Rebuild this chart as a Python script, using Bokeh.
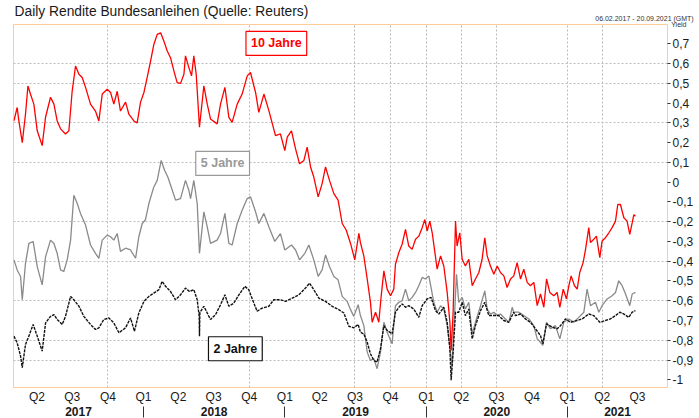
import pandas as pd
from bokeh.plotting import figure
from bokeh.models import FixedTicker, LinearAxis, Label, Range1d, CustomJSTickFormatter
from bokeh.embed import file_html
from bokeh.resources import INLINE

# ---- data (time as decimal year, yields in %) ----
t10 = [2017.083, 2017.106, 2017.118, 2017.142, 2017.165, 2017.182, 2017.200, 2017.224, 2017.248, 2017.283,
       2017.307, 2017.342, 2017.366, 2017.389, 2017.413, 2017.448, 2017.472, 2017.495, 2017.519, 2017.543,
       2017.566, 2017.590, 2017.625, 2017.660, 2017.684, 2017.708, 2017.743, 2017.767, 2017.790, 2017.814,
       2017.837, 2017.873, 2017.896, 2017.932, 2017.955, 2017.979, 2018.003, 2018.026, 2018.050, 2018.073,
       2018.097, 2018.121, 2018.144, 2018.168, 2018.191, 2018.215, 2018.238, 2018.262, 2018.286, 2018.297,
       2018.321, 2018.340, 2018.356, 2018.373, 2018.396, 2018.427, 2018.451, 2018.474, 2018.521, 2018.545,
       2018.576, 2018.604, 2018.627, 2018.663, 2018.698, 2018.734, 2018.757, 2018.793, 2018.816, 2018.852,
       2018.887, 2018.934, 2018.969, 2019.000, 2019.017, 2019.047, 2019.076, 2019.104, 2019.135, 2019.158,
       2019.182, 2019.205, 2019.236, 2019.264, 2019.288, 2019.316, 2019.347, 2019.377, 2019.406, 2019.434,
       2019.465, 2019.495, 2019.524, 2019.535, 2019.559, 2019.583, 2019.606, 2019.618, 2019.642, 2019.665,
       2019.682, 2019.701, 2019.724, 2019.748, 2019.771, 2019.783, 2019.807, 2019.830, 2019.854, 2019.877,
       2019.901, 2019.925, 2019.948, 2019.972, 2019.991, 2020.007, 2020.026, 2020.043, 2020.059, 2020.078,
       2020.102, 2020.125, 2020.149, 2020.168, 2020.177, 2020.191, 2020.208, 2020.219, 2020.238, 2020.255,
       2020.278, 2020.302, 2020.326, 2020.349, 2020.373, 2020.396, 2020.415, 2020.432, 2020.455, 2020.479,
       2020.503, 2020.526, 2020.550, 2020.573, 2020.597, 2020.620, 2020.644, 2020.668, 2020.691, 2020.715,
       2020.738, 2020.762, 2020.786, 2020.809, 2020.833, 2020.852, 2020.875, 2020.903, 2020.927, 2020.946,
       2020.970, 2020.993, 2021.010, 2021.026, 2021.050, 2021.069, 2021.087, 2021.111, 2021.128, 2021.151,
       2021.163, 2021.186, 2021.205, 2021.229, 2021.245, 2021.269, 2021.293, 2021.316, 2021.340, 2021.356,
       2021.375, 2021.399, 2021.422, 2021.441, 2021.458, 2021.470, 2021.481]
v10 = [0.311, 0.378, 0.31, 0.20, 0.345, 0.487, 0.446, 0.395, 0.26, 0.185,
       0.33, 0.43, 0.395, 0.31, 0.27, 0.244, 0.26, 0.46, 0.588, 0.546,
       0.53, 0.48, 0.395, 0.36, 0.31, 0.446, 0.47, 0.454, 0.395, 0.46,
       0.36, 0.405, 0.345, 0.31, 0.30, 0.405, 0.454, 0.53, 0.613, 0.697,
       0.748, 0.756, 0.714, 0.664, 0.63, 0.563, 0.504, 0.50, 0.546, 0.639,
       0.58, 0.538, 0.639, 0.546, 0.278, 0.488, 0.395, 0.32, 0.295, 0.395,
       0.48, 0.328, 0.303, 0.395, 0.446, 0.538, 0.555, 0.454, 0.353, 0.446,
       0.362, 0.236, 0.244, 0.16, 0.228, 0.26, 0.169, 0.093, 0.11, 0.177,
       0.077, 0.026, -0.074, -0.007, 0.077, 0.009, -0.058, -0.091, -0.209, -0.242,
       -0.31, -0.393, -0.259, -0.306, -0.373, -0.49, -0.608, -0.709, -0.658, -0.709,
       -0.575, -0.449, -0.541, -0.575, -0.541, -0.415, -0.356, -0.314, -0.239, -0.323,
       -0.34, -0.289, -0.273, -0.23, -0.189, -0.247, -0.197, -0.256, -0.34, -0.44,
       -0.373, -0.424, -0.558, -0.709, -0.851, -0.658, -0.197, -0.323, -0.256, -0.39,
       -0.424, -0.39, -0.524, -0.49, -0.457, -0.39, -0.281, -0.373, -0.424, -0.466,
       -0.424, -0.457, -0.474, -0.533, -0.49, -0.474, -0.407, -0.49, -0.44, -0.507,
       -0.524, -0.507, -0.625, -0.566, -0.633, -0.49, -0.558, -0.575, -0.558, -0.633,
       -0.541, -0.591, -0.524, -0.474, -0.524, -0.541, -0.457, -0.407, -0.34, -0.23,
       -0.306, -0.289, -0.273, -0.382, -0.298, -0.281, -0.256, -0.23, -0.197, -0.113,
       -0.113, -0.18, -0.197, -0.264, -0.206, -0.164, -0.172]

t5 = [2017.083, 2017.106, 2017.130, 2017.142, 2017.165, 2017.189, 2017.219, 2017.248, 2017.283, 2017.307,
      2017.342, 2017.366, 2017.389, 2017.413, 2017.436, 2017.460, 2017.484, 2017.507, 2017.531, 2017.554,
      2017.590, 2017.625, 2017.660, 2017.684, 2017.708, 2017.743, 2017.767, 2017.790, 2017.814, 2017.837,
      2017.873, 2017.908, 2017.944, 2017.967, 2017.991, 2018.014, 2018.038, 2018.073, 2018.097, 2018.125,
      2018.149, 2018.172, 2018.196, 2018.227, 2018.262, 2018.297, 2018.321, 2018.333, 2018.356, 2018.380,
      2018.396, 2018.427, 2018.451, 2018.474, 2018.521, 2018.545, 2018.576, 2018.604, 2018.627, 2018.663,
      2018.698, 2018.734, 2018.757, 2018.793, 2018.816, 2018.852, 2018.887, 2018.929, 2018.969, 2019.000,
      2019.047, 2019.076, 2019.104, 2019.142, 2019.170, 2019.205, 2019.236, 2019.264, 2019.288, 2019.316,
      2019.347, 2019.377, 2019.406, 2019.441, 2019.465, 2019.488, 2019.519, 2019.535, 2019.559, 2019.583,
      2019.606, 2019.630, 2019.653, 2019.677, 2019.701, 2019.724, 2019.759, 2019.783, 2019.807, 2019.830,
      2019.854, 2019.877, 2019.901, 2019.925, 2019.948, 2019.972, 2019.995, 2020.019, 2020.035, 2020.054,
      2020.078, 2020.102, 2020.125, 2020.149, 2020.172, 2020.184, 2020.196, 2020.215, 2020.231, 2020.255,
      2020.278, 2020.302, 2020.326, 2020.349, 2020.385, 2020.415, 2020.432, 2020.455, 2020.479, 2020.503,
      2020.526, 2020.561, 2020.585, 2020.609, 2020.620, 2020.656, 2020.691, 2020.727, 2020.762, 2020.786,
      2020.809, 2020.826, 2020.852, 2020.880, 2020.915, 2020.946, 2020.974, 2021.010, 2021.045, 2021.080,
      2021.116, 2021.139, 2021.163, 2021.198, 2021.222, 2021.245, 2021.281, 2021.316, 2021.340, 2021.363,
      2021.387, 2021.411, 2021.441, 2021.458, 2021.481]
v5 = [-0.393, -0.444, -0.477, -0.595, -0.41, -0.31, -0.30, -0.427, -0.52, -0.377,
      -0.293, -0.31, -0.36, -0.444, -0.452, -0.393, -0.293, -0.066, -0.108, -0.158,
      -0.217, -0.318, -0.36, -0.385, -0.293, -0.268, -0.276, -0.293, -0.26, -0.35,
      -0.334, -0.343, -0.385, -0.276, -0.209, -0.19, -0.108, -0.024, 0.009, 0.11,
      0.06, 0.026, -0.024, -0.091, -0.083, 0.009, -0.041, -0.083, 0.009, -0.108,
      -0.36, -0.15, -0.226, -0.31, -0.293, -0.26, -0.158, -0.31, -0.318, -0.209,
      -0.142, -0.083, -0.074, -0.15, -0.209, -0.158, -0.226, -0.30, -0.26, -0.343,
      -0.318, -0.343, -0.393, -0.36, -0.318, -0.393, -0.477, -0.444, -0.368, -0.427,
      -0.477, -0.494, -0.578, -0.603, -0.645, -0.679, -0.62, -0.675, -0.726, -0.86,
      -0.902, -0.893, -0.944, -0.86, -0.709, -0.759, -0.818, -0.625, -0.608, -0.60,
      -0.541, -0.60, -0.583, -0.558, -0.524, -0.482, -0.49, -0.474, -0.533, -0.608,
      -0.658, -0.625, -0.642, -0.726, -0.86, -0.927, -0.742, -0.466, -0.608, -0.583,
      -0.642, -0.608, -0.768, -0.709, -0.625, -0.55, -0.642, -0.667, -0.658, -0.675,
      -0.667, -0.692, -0.709, -0.633, -0.658, -0.658, -0.675, -0.692, -0.726, -0.793,
      -0.81, -0.826, -0.709, -0.742, -0.726, -0.793, -0.709, -0.692, -0.709, -0.684,
      -0.658, -0.541, -0.625, -0.608, -0.658, -0.625, -0.591, -0.575, -0.558, -0.499,
      -0.524, -0.566, -0.625, -0.566, -0.558]

t2 = [2017.083, 2017.106, 2017.130, 2017.142, 2017.165, 2017.189, 2017.219, 2017.248, 2017.283, 2017.307,
      2017.342, 2017.366, 2017.389, 2017.425, 2017.448, 2017.484, 2017.507, 2017.543, 2017.578, 2017.625,
      2017.660, 2017.684, 2017.719, 2017.755, 2017.790, 2017.826, 2017.873, 2017.908, 2017.936, 2017.967,
      2018.003, 2018.038, 2018.073, 2018.109, 2018.132, 2018.156, 2018.191, 2018.227, 2018.262, 2018.297,
      2018.325, 2018.356, 2018.380, 2018.394, 2018.396, 2018.399, 2018.427, 2018.451, 2018.474, 2018.510,
      2018.545, 2018.576, 2018.604, 2018.639, 2018.675, 2018.717, 2018.745, 2018.781, 2018.804, 2018.840,
      2018.887, 2018.922, 2018.969, 2019.005, 2019.052, 2019.099, 2019.146, 2019.175, 2019.205, 2019.241,
      2019.288, 2019.335, 2019.382, 2019.418, 2019.453, 2019.488, 2019.519, 2019.535, 2019.559, 2019.583,
      2019.606, 2019.630, 2019.653, 2019.677, 2019.701, 2019.724, 2019.759, 2019.783, 2019.807, 2019.830,
      2019.854, 2019.877, 2019.913, 2019.948, 2019.972, 2020.007, 2020.035, 2020.066, 2020.090, 2020.125,
      2020.149, 2020.168, 2020.177, 2020.191, 2020.208, 2020.231, 2020.255, 2020.278, 2020.302, 2020.326,
      2020.349, 2020.385, 2020.415, 2020.444, 2020.479, 2020.514, 2020.550, 2020.585, 2020.620, 2020.632,
      2020.668, 2020.703, 2020.738, 2020.774, 2020.809, 2020.826, 2020.852, 2020.892, 2020.927, 2020.951,
      2020.986, 2021.021, 2021.069, 2021.104, 2021.151, 2021.186, 2021.229, 2021.269, 2021.304, 2021.340,
      2021.370, 2021.399, 2021.434, 2021.458, 2021.481]
v2 = [-0.779, -0.813, -0.88, -0.938, -0.821, -0.779, -0.72, -0.779, -0.855, -0.712,
      -0.679, -0.67, -0.695, -0.72, -0.679, -0.578, -0.595, -0.628, -0.679, -0.72,
      -0.745, -0.737, -0.695, -0.687, -0.712, -0.762, -0.737, -0.687, -0.754, -0.662,
      -0.603, -0.578, -0.561, -0.544, -0.502, -0.527, -0.553, -0.595, -0.57, -0.536,
      -0.553, -0.544, -0.595, -0.679, -0.78, -0.66, -0.628, -0.662, -0.695, -0.67,
      -0.62, -0.57, -0.628, -0.612, -0.57, -0.527, -0.544, -0.612, -0.653, -0.637,
      -0.628, -0.595, -0.595, -0.603, -0.587, -0.57, -0.536, -0.511, -0.544, -0.587,
      -0.603, -0.628, -0.645, -0.662, -0.729, -0.737, -0.72, -0.759, -0.768, -0.81,
      -0.868, -0.902, -0.91, -0.843, -0.726, -0.75, -0.768, -0.658, -0.633, -0.616,
      -0.633, -0.625, -0.642, -0.684, -0.625, -0.591, -0.583, -0.65, -0.667, -0.633,
      -0.709, -0.843, -1.002, -0.86, -0.658, -0.658, -0.608, -0.675, -0.642, -0.793,
      -0.726, -0.65, -0.608, -0.675, -0.675, -0.675, -0.70, -0.709, -0.658, -0.675,
      -0.667, -0.692, -0.709, -0.742, -0.776, -0.818, -0.717, -0.734, -0.742, -0.726,
      -0.692, -0.709, -0.70, -0.692, -0.667, -0.675, -0.709, -0.70, -0.692, -0.675,
      -0.658, -0.667, -0.684, -0.658, -0.65]

quarter_labels = ["Q2", "Q3", "Q4",
                  "Q1", "Q2", "Q3", "Q4",
                  "Q1", "Q2", "Q3", "Q4",
                  "Q1", "Q2", "Q3", "Q4",
                  "Q1", "Q2", "Q3"]
year_labels = ["2017", "2018", "2019", "2020", "2021"]
y_ticks = [-1.0, -0.9, -0.8, -0.7, -0.6, -0.5, -0.4, -0.3, -0.2, -0.1,
           0.0, 0.1, 0.2, 0.3, 0.4, 0.5, 0.6, 0.7]
y_tick_labels = ["-1", "-0,9", "-0,8", "-0,7", "-0,6", "-0,5", "-0,4", "-0,3", "-0,2", "-0,1",
                 "0", "0,1", "0,2", "0,3", "0,4", "0,5", "0,6", "0,7"]
title_text = "Daily Rendite Bundesanleihen (Quelle: Reuters)"
period_labels = ["06.02.2017 - 20.09.2021 (GMT)"]


def dec_year(ts):
    ts = pd.Timestamp(ts)
    start = pd.Timestamp(year=ts.year, month=1, day=1)
    end = pd.Timestamp(year=ts.year + 1, month=1, day=1)
    return ts.year + (ts - start) / (end - start)


X0, X1 = 2017.080, 2021.708
q_pos = [dec_year(d) for d in pd.date_range("2017-04-01", "2021-07-01", freq="QS")]
year_starts = [2018.0, 2019.0, 2020.0, 2021.0]
years_num = [int(y) for y in year_labels]
year_pos = [(max(y, X0) + min(y + 1, X1)) / 2 for y in years_num]
period_pos = [2021.545]

FONT = "Liberation Sans"
TXT = "#1a1a1a"

p = figure(width=697, height=418, x_range=Range1d(X0, X1), y_range=Range1d(-1.039, 0.798),
           y_axis_location="right", toolbar_location=None, output_backend="svg",
           min_border_left=13, min_border_right=30, min_border_top=24, min_border_bottom=26,
           title=title_text)
p.title.align = "left"
p.title.text_font = FONT
p.title.text_font_size = "13.8px"
p.title.text_font_style = "normal"
p.title.text_color = TXT
p.title.standoff = -15
p.title.offset = 1

p.outline_line_color = "#FFCC99"
p.outline_line_width = 1
p.background_fill_color = "white"
p.border_fill_color = "white"

nearest_js = """
let best = 0, bd = 1e9;
for (let i = 0; i < tpos.length; i++) {
  const d = Math.abs(tpos[i] - tick);
  if (d < bd) { bd = d; best = i; }
}
return tlabels[best];
"""


def fmt(pos, labels):
    return CustomJSTickFormatter(args=dict(tpos=pos, tlabels=labels), code=nearest_js)


# default axes (grab before adding more)
xa = p.below[0]
yax = p.right[0]

# bottom quarter axis
xa.ticker = FixedTicker(ticks=q_pos)
xa.formatter = fmt(q_pos, quarter_labels)
xa.major_tick_out = 0
xa.major_tick_in = 0
xa.minor_tick_out = 0
xa.minor_tick_in = 0
xa.axis_line_color = None
xa.major_label_standoff = 2
xa.major_label_text_font = FONT
xa.major_label_text_font_size = "12px"
xa.major_label_text_color = TXT

# year axis with separators at year starts
ya2 = LinearAxis(ticker=FixedTicker(ticks=year_pos, minor_ticks=year_starts),
                 formatter=fmt(year_pos, year_labels))
ya2.major_tick_out = 0
ya2.major_tick_in = 0
ya2.minor_tick_out = 11
ya2.minor_tick_in = 0
ya2.minor_tick_line_color = "#333333"
ya2.axis_line_color = None
ya2.major_label_standoff = -11
ya2.major_label_text_font = FONT
ya2.major_label_text_font_size = "12px"
ya2.major_label_text_font_style = "bold"
ya2.major_label_text_color = TXT
p.add_layout(ya2, "below")

# period text above the frame, right side
top_ax = LinearAxis(ticker=FixedTicker(ticks=period_pos), formatter=fmt(period_pos, period_labels))
top_ax.major_tick_out = 0
top_ax.major_tick_in = 0
top_ax.minor_tick_out = 0
top_ax.minor_tick_in = 0
top_ax.axis_line_color = None
top_ax.major_label_standoff = 3
top_ax.major_label_text_font = FONT
top_ax.major_label_text_font_size = "7px"
top_ax.major_label_text_color = "#333333"
p.add_layout(top_ax, "above")

# right y axis
yax.ticker = FixedTicker(ticks=y_ticks)
yax.formatter = fmt(y_ticks, y_tick_labels)
yax.major_tick_out = 3
yax.major_tick_in = 0
yax.minor_tick_out = 0
yax.minor_tick_in = 0
yax.major_tick_line_color = "#333333"
yax.axis_line_color = None
yax.major_label_standoff = 2
yax.major_label_text_font = FONT
yax.major_label_text_font_size = "12px"
yax.major_label_text_color = TXT
yax.axis_label = "Yield"
yax.axis_label_orientation = "horizontal"
yax.axis_label_align = "end"
yax.axis_label_standoff = -25
yax.axis_label_text_font = FONT
yax.axis_label_text_font_size = "7px"
yax.axis_label_text_font_style = "normal"
yax.axis_label_text_color = "#333333"

# grid (as visible in the reference)
vgrid = [q_pos[i] for i in (2, 6, 9, 10, 11, 12, 13, 15, 16)]
hgrid = [0.6, 0.5, 0.3, 0.1, -0.2, -0.4, -0.6, -0.8, -0.9]
p.xgrid.ticker = FixedTicker(ticks=vgrid)
p.ygrid.ticker = FixedTicker(ticks=hgrid)
for g in (p.xgrid, p.ygrid):
    g.grid_line_color = "#BBBBBB"
    g.grid_line_dash = "2 2"
    g.grid_line_width = 1

# series
p.line(t5, v5, line_color="#8A8A8A", line_width=1.3)
p.line(t2, v2, line_color="#111111", line_width=1.4, line_dash="3 1")
p.line(t10, v10, line_color="#FF0000", line_width=1.3)

# series name boxes
for txt, xx, yy, col in [("10 Jahre", 2018.94, 0.702, "#FF0000"),
                         ("5 Jahre", 2018.56, 0.095, "#999999"),
                         ("2 Jahre", 2018.65, -0.843, "#111111")]:
    p.add_layout(Label(x=xx, y=yy, text=txt, text_align="center", text_baseline="middle",
                       text_font=FONT, text_font_size="12.5px", text_font_style="bold",
                       text_color=col, border_line_color=col, border_line_width=1.2,
                       background_fill_color="white", padding=5))

open("out.html", "w").write(file_html(p, INLINE))
